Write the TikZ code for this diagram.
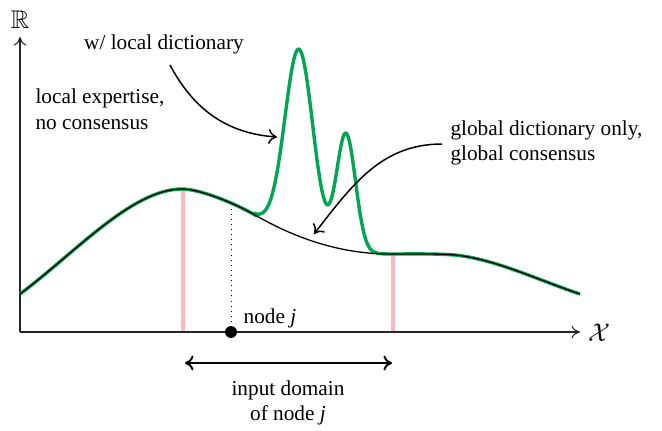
\documentclass[tikz,border=0pt]{standalone}
\usepackage{amssymb}
\usepackage{fontspec}
\setmainfont{Liberation Serif}
\usetikzlibrary{arrows.meta}
\definecolor{curvegreen}{RGB}{0,166,81}
\definecolor{domainpink}{RGB}{255,183,190}
\begin{document}
\begin{tikzpicture}[x=0.47pt,y=0.47pt,
  declare function={
    base(\x)=78+((390-\x)*0.04626)^2;
    bumps(\x)=187*exp(max(-9,-1*(((\x-299)/19.8)^2)))+116*exp(max(-9,-1*(((\x-346)/13.42)^2)));
  },
  axisline/.style={draw=black!85,line width=0.5pt,-{To[length=4pt,width=6pt]}},
  greencurve/.style={draw=curvegreen,line width=1.6pt},
  blackcurve/.style={draw=black,line width=0.6pt},
  pinkline/.style={draw=domainpink,line width=1.9pt},
  annot/.style={draw=black,line width=0.7pt,-{To[length=4pt,width=7pt]}},
  lbl/.style={font=\normalsize,inner sep=1pt}
]
\useasboundingbox (0,-98) rectangle (662,332);
% coordinates
\coordinate (O) at (20,0);
\coordinate (ytip) at (20,295);
\coordinate (xtip) at (580,0);
% pink domain borders
\draw[pinkline] (183,0) -- (183,143);
\draw[pinkline] (393,0) -- (393,78);
% dotted line to node j
\draw[dotted,line width=0.4pt] (231,0) -- (231,127);
% axes
\draw[axisline] (O) -- (ytip);
\draw[axisline] (O) -- (xtip);
\node[lbl,font=\large] (R) at (20,312) {$\mathbb{R}$};
\node[lbl,font=\large] (X) at (599,-1) {$\mathcal{X}$};
% green curve
\draw[greencurve] (20,38) .. controls (75,79) and (132,143) .. (182,143)
  .. controls (200,143) and (235,128.6) .. (255,117)
  -- plot[domain=255:390,samples=220,smooth] (\x,{base(\x)+bumps(\x)})
  .. controls (415,78) and (435,78.5) .. (455,77)
  .. controls (495,73) and (540,51.2) .. (580,38);
% black curve
\draw[blackcurve] (20,38) .. controls (75,79) and (132,143) .. (182,143)
  .. controls (200,143) and (235,128.6) .. (255,117)
  -- plot[domain=255:390,samples=120,smooth] (\x,{base(\x)})
  .. controls (415,78) and (435,78.5) .. (455,77)
  .. controls (495,73) and (540,51.2) .. (580,38);
% node j
\fill (231,0) circle[radius=2.8pt];
\node[lbl] (nodej) at (270,14) {node \textit{j}};
% input domain
\draw[line width=0.9pt,{To[length=4pt,width=7pt]}-{To[length=4pt,width=7pt]}] (185,-31) -- (392,-31);
\node[lbl,align=center] (domain) at (288,-71) {input domain\\of node \textit{j}};
% labels
\node[lbl] (wld) at (164,288) {w/ local dictionary};
\node[lbl,align=left,anchor=west] (lexp) at (33,223) {local expertise,\\no consensus};
\node[lbl,align=left,anchor=west] (glob) at (448,189) {global dictionary only,\\global consensus};
% annotation arrows
\coordinate (a1s) at (170,267);
\coordinate (a1e) at (277,195);
\coordinate (a2s) at (442,188);
\coordinate (a2e) at (314,98);
\draw[annot] (a1s) to[out=-62,in=176] (a1e);
\draw[annot] (a2s) to[out=180,in=52] (a2e);
\end{tikzpicture}
\end{document}
